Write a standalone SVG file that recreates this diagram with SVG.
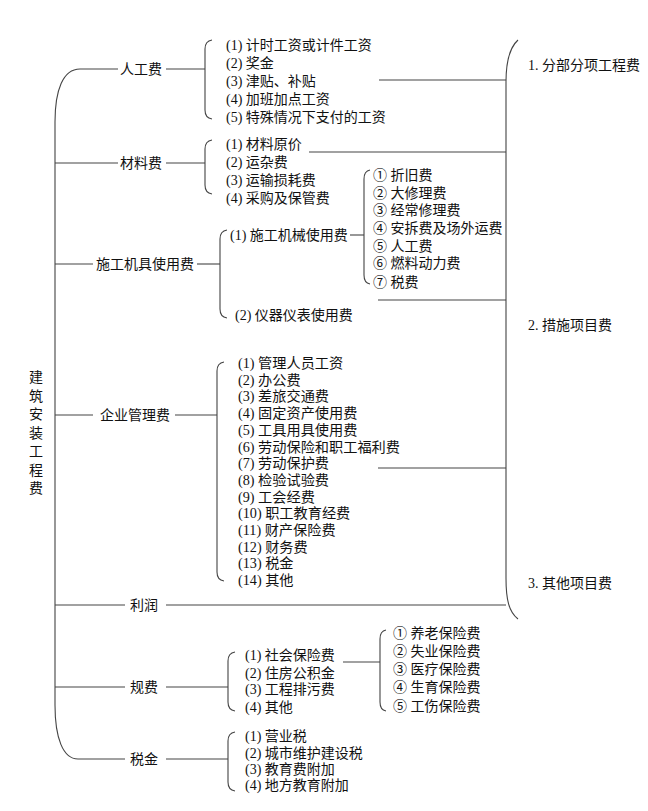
<svg xmlns="http://www.w3.org/2000/svg" width="648" height="811" viewBox="0 0 648 811">
<style>
text{font-family:"Liberation Serif","Noto Sans CJK SC",serif;font-size:14px;fill:#111}
.ln{fill:none;stroke:#444;stroke-width:1.1}
.m{font-size:14.2px}
</style>
<rect width="648" height="811" fill="#fff"/>
<g id="connectors">
<path class="ln" d="M80,69 C63,69 55,90 55,122 V705 C55,738 63,759 78,759"/>
<path class="ln" d="M518,40 C509,48 506,62 506,82 V578 C506,600 509,612 518,619"/>
<line class="ln" x1="80" y1="69" x2="118" y2="69"/><line class="ln" x1="166" y1="69" x2="205" y2="69"/>
<line class="ln" x1="55" y1="163" x2="118" y2="163"/><line class="ln" x1="166" y1="163" x2="205" y2="163"/>
<line class="ln" x1="55" y1="264" x2="93" y2="264"/><line class="ln" x1="197" y1="264" x2="220" y2="264"/>
<line class="ln" x1="55" y1="415" x2="93" y2="415"/><line class="ln" x1="175" y1="415" x2="217" y2="415"/>
<line class="ln" x1="55" y1="605" x2="125" y2="605"/><line class="ln" x1="166" y1="605" x2="506" y2="605"/>
<line class="ln" x1="55" y1="687" x2="125" y2="687"/><line class="ln" x1="166" y1="687" x2="228" y2="687"/>
<line class="ln" x1="78" y1="759" x2="125" y2="759"/><line class="ln" x1="166" y1="759" x2="228" y2="759"/>
<line class="ln" x1="379" y1="80" x2="506" y2="80"/>
<line class="ln" x1="309" y1="152" x2="506" y2="152"/>
<line class="ln" x1="378" y1="300" x2="506" y2="300"/>
<line class="ln" x1="378" y1="468" x2="506" y2="468"/>
<line class="ln" x1="350" y1="235" x2="364" y2="235"/>
<line class="ln" x1="343" y1="662" x2="380" y2="662"/>
<path class="ln" d="M212,40 Q205,41 205,49 V110 Q205,118 212,119"/>
<path class="ln" d="M212,140 Q205,141 205,149 V185 Q205,193 212,194"/>
<path class="ln" d="M227,230 Q220,231 220,239 V309 Q220,317 227,318"/>
<path class="ln" d="M370,170 Q364,171 364,179 V275 Q364,283 370,284"/>
<path class="ln" d="M224,362 Q217,363 217,371 V572 Q217,580 224,581"/>
<path class="ln" d="M235,652 Q228,653 228,661 V702 Q228,710 235,711"/>
<path class="ln" d="M386,630 Q380,631 380,639 V702 Q380,710 386,711"/>
<path class="ln" d="M235,732 Q228,733 228,741 V782 Q228,790 235,791"/>
</g>
<g id="root"><text x="29" y="382">建</text><text x="29" y="400.5">筑</text><text x="29" y="419">安</text><text x="29" y="437.5">装</text><text x="29" y="456">工</text><text x="29" y="474.5">程</text><text x="29" y="493">费</text></g>
<g id="n-rengong"><text x="120" y="74">人工费</text>
<text x="226" y="50">(1) 计时工资或计件工资</text><text x="226" y="68">(2) 奖金</text><text x="226" y="86">(3) 津贴、补贴</text><text x="226" y="104">(4) 加班加点工资</text><text x="226" y="122">(5) 特殊情况下支付的工资</text></g>
<g id="n-cailiao"><text x="120" y="168">材料费</text>
<text x="226" y="149">(1) 材料原价</text><text x="226" y="167">(2) 运杂费</text><text x="226" y="185">(3) 运输损耗费</text><text x="226" y="203">(4) 采购及保管费</text></g>
<g id="n-jiju"><text x="96" y="269">施工机具使用费</text>
<text x="230" y="240">(1) 施工机械使用费</text><text x="235" y="320">(2) 仪器仪表使用费</text>
<text x="373" y="180">① 折旧费</text><text x="373" y="198">② 大修理费</text><text x="373" y="215">③ 经常修理费</text><text x="373" y="233">④ 安拆费及场外运费</text><text x="373" y="251">⑤ 人工费</text><text x="373" y="268">⑥ 燃料动力费</text><text x="373" y="287">⑦ 税费</text></g>
<g id="n-guanli"><text x="100" y="420">企业管理费</text>
<text class="m" x="238" y="368">(1) 管理人员工资</text><text class="m" x="238" y="384.7">(2) 办公费</text><text class="m" x="238" y="401.4">(3) 差旅交通费</text><text class="m" x="238" y="418.1">(4) 固定资产使用费</text><text class="m" x="238" y="434.8">(5) 工具用具使用费</text><text class="m" x="238" y="451.5">(6) 劳动保险和职工福利费</text><text class="m" x="238" y="468.2">(7) 劳动保护费</text><text class="m" x="238" y="484.9">(8) 检验试验费</text><text class="m" x="238" y="501.6">(9) 工会经费</text><text class="m" x="238" y="518.3">(10) 职工教育经费</text><text class="m" x="238" y="535">(11) 财产保险费</text><text class="m" x="238" y="551.7">(12) 财务费</text><text class="m" x="238" y="568.4">(13) 税金</text><text class="m" x="238" y="585.1">(14) 其他</text></g>
<g id="n-lirun"><text x="130" y="610">利润</text></g>
<g id="n-guifei"><text x="130" y="692">规费</text>
<text x="245" y="660">(1) 社会保险费</text><text x="245" y="678">(2) 住房公积金</text><text x="245" y="694">(3) 工程排污费</text><text x="245" y="712">(4) 其他</text>
<text x="393" y="638">① 养老保险费</text><text x="393" y="656">② 失业保险费</text><text x="393" y="674">③ 医疗保险费</text><text x="393" y="692">④ 生育保险费</text><text x="393" y="711">⑤ 工伤保险费</text></g>
<g id="n-shuijin"><text x="130" y="764">税金</text>
<text x="245" y="741">(1) 营业税</text><text x="245" y="758">(2) 城市维护建设税</text><text x="245" y="774">(3) 教育费附加</text><text x="245" y="790">(4) 地方教育附加</text></g>
<g id="n-right"><text x="528" y="70">1. 分部分项工程费</text><text x="528" y="330">2. 措施项目费</text><text x="528" y="588">3. 其他项目费</text></g>
</svg>
